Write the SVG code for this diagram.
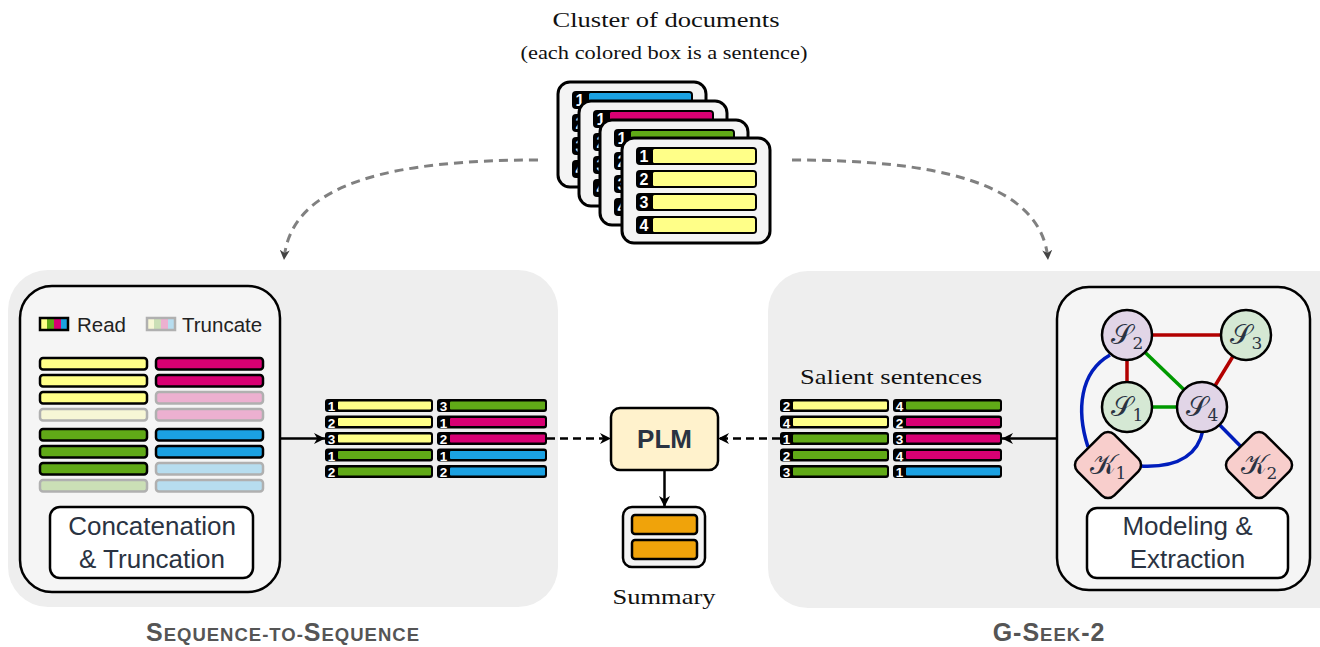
<svg xmlns="http://www.w3.org/2000/svg" width="1320" height="647" viewBox="0 0 1320 647">
<defs>
<style>
.bg{fill:#eeeeee}
.inner{fill:#f5f5f5;stroke:#000;stroke-width:2.5}
.doc{fill:#f4f4f4;stroke:#000;stroke-width:3}
.lab{font-family:"Liberation Sans",Arial,sans-serif;fill:#2a3342}
.serif{font-family:"Liberation Serif","Times New Roman",serif;fill:#111}
.y{fill:#ffff88}.g{fill:#60a917}.m{fill:#d80073}.b{fill:#1ba1e2}.o{fill:#f0a30a}
.bar{stroke:#000;stroke-width:2.5}
.tr{opacity:0.28}
.num{font-family:"Liberation Sans",Arial,sans-serif;font-weight:bold;fill:#fff;font-size:13.5px;text-anchor:middle}
.dnum{font-family:"Liberation Sans",Arial,sans-serif;font-weight:bold;fill:#fff;font-size:16px;text-anchor:middle}
.cap{font-family:"Liberation Sans",Arial,sans-serif;font-weight:bold;fill:#555;font-size:25px;letter-spacing:1px;text-anchor:middle}
.edge{fill:none;stroke-width:3.5}
.red{stroke:#b20000}.grn{stroke:#009900}.blu{stroke:#001dbc}
.node{stroke:#000;stroke-width:2.5}
.math{font-family:"DejaVu Serif","Liberation Serif",serif;fill:#2a3342;font-size:28px;text-anchor:middle}
.conn{fill:none;stroke:#000;stroke-width:2.5}
.dash{stroke-dasharray:8 5}
.gdash{fill:none;stroke:#808080;stroke-width:3;stroke-dasharray:9 6}
</style>
<marker id="ah" viewBox="0 0 10 10" refX="10" refY="5" markerWidth="11" markerHeight="11" markerUnits="userSpaceOnUse" orient="auto"><path d="M0,0 L10,5 L0,10 L3,5 z" fill="#000"/></marker>
<marker id="ahg" viewBox="0 0 10 10" refX="10" refY="5" markerWidth="10" markerHeight="10" markerUnits="userSpaceOnUse" orient="auto"><path d="M0,0 L10,5 L0,10 L3,5 z" fill="#444"/></marker>
</defs>

<!-- title -->
<text class="serif" x="666" y="27" font-size="22" text-anchor="middle" textLength="227" lengthAdjust="spacingAndGlyphs">Cluster of documents</text>
<text class="serif" x="664" y="59" font-size="18" text-anchor="middle" textLength="287" lengthAdjust="spacingAndGlyphs">(each colored box is a sentence)</text>

<!-- panels -->
<g id="panel-seq">
<rect class="bg" x="8" y="270" width="550" height="337" rx="40"/>
<rect class="inner" x="20" y="286" width="260" height="306" rx="32"/>
</g>
<g id="panel-gseek">
<rect class="bg" x="768" y="271" width="600" height="337" rx="40"/>
<rect class="inner" x="1057" y="287" width="253" height="303" rx="32"/>
</g>

<!-- document cluster -->
<g id="documents">
<g id="doc1">
<rect class="doc" x="558" y="82" width="148" height="105" rx="12"/>
<rect x="572" y="91" width="121" height="18" rx="4"/><rect class="b" x="589" y="93" width="102" height="14" rx="1.5"/><text class="dnum" x="580" y="106">1</text>
<rect x="572" y="114" width="121" height="18" rx="4"/><rect class="b" x="589" y="116" width="102" height="14" rx="1.5"/><text class="dnum" x="580" y="129">2</text>
<rect x="572" y="137" width="121" height="18" rx="4"/><rect class="b" x="589" y="139" width="102" height="14" rx="1.5"/><text class="dnum" x="580" y="152">3</text>
<rect x="572" y="160" width="121" height="18" rx="4"/><rect class="b" x="589" y="162" width="102" height="14" rx="1.5"/><text class="dnum" x="580" y="175">4</text>
</g>
<g id="doc2">
<rect class="doc" x="579" y="101" width="148" height="105" rx="12"/>
<rect x="593" y="110" width="121" height="18" rx="4"/><rect class="m" x="610" y="112" width="102" height="14" rx="1.5"/><text class="dnum" x="601" y="125">1</text>
<rect x="593" y="133" width="121" height="18" rx="4"/><rect class="m" x="610" y="135" width="102" height="14" rx="1.5"/><text class="dnum" x="601" y="148">2</text>
<rect x="593" y="156" width="121" height="18" rx="4"/><rect class="m" x="610" y="158" width="102" height="14" rx="1.5"/><text class="dnum" x="601" y="171">3</text>
<rect x="593" y="179" width="121" height="18" rx="4"/><rect class="m" x="610" y="181" width="102" height="14" rx="1.5"/><text class="dnum" x="601" y="194">4</text>
</g>
<g id="doc3">
<rect class="doc" x="600" y="120" width="148" height="105" rx="12"/>
<rect x="614" y="129" width="121" height="18" rx="4"/><rect class="g" x="631" y="131" width="102" height="14" rx="1.5"/><text class="dnum" x="622" y="144">1</text>
<rect x="614" y="152" width="121" height="18" rx="4"/><rect class="g" x="631" y="154" width="102" height="14" rx="1.5"/><text class="dnum" x="622" y="167">2</text>
<rect x="614" y="175" width="121" height="18" rx="4"/><rect class="g" x="631" y="177" width="102" height="14" rx="1.5"/><text class="dnum" x="622" y="190">3</text>
<rect x="614" y="198" width="121" height="18" rx="4"/><rect class="g" x="631" y="200" width="102" height="14" rx="1.5"/><text class="dnum" x="622" y="213">4</text>
</g>
<g id="doc4">
<rect class="doc" x="622" y="138" width="148" height="105" rx="12"/>
<rect x="636" y="147" width="121" height="18" rx="4"/><rect class="y" x="653" y="149" width="102" height="14" rx="1.5"/><text class="dnum" x="644" y="162">1</text>
<rect x="636" y="170" width="121" height="18" rx="4"/><rect class="y" x="653" y="172" width="102" height="14" rx="1.5"/><text class="dnum" x="644" y="185">2</text>
<rect x="636" y="193" width="121" height="18" rx="4"/><rect class="y" x="653" y="195" width="102" height="14" rx="1.5"/><text class="dnum" x="644" y="208">3</text>
<rect x="636" y="216" width="121" height="18" rx="4"/><rect class="y" x="653" y="218" width="102" height="14" rx="1.5"/><text class="dnum" x="644" y="231">4</text>
</g>
</g>

<!-- legend and truncation bars -->
<g id="legend">
<rect class="y" x="40" y="318" width="7" height="12"/><rect class="g" x="47" y="318" width="7" height="12"/><rect class="m" x="54" y="318" width="7" height="12"/><rect class="b" x="61" y="318" width="7" height="12"/>
<rect x="40" y="318" width="28" height="12" fill="none" stroke="#000" stroke-width="2.5"/>
<text class="lab" x="77" y="332" font-size="20.5" style="fill:#222">Read</text>
<g class="tr">
<rect class="y" x="147" y="318" width="7" height="12"/><rect class="g" x="154" y="318" width="7" height="12"/><rect class="m" x="161" y="318" width="7" height="12"/><rect class="b" x="168" y="318" width="7" height="12"/>
<rect x="147" y="318" width="28" height="12" fill="none" stroke="#000" stroke-width="2.5"/>
</g>
<text class="lab" x="182" y="332" font-size="20.5" style="fill:#222">Truncate</text>
</g>

<g id="input-sentences">
<rect class="y bar" x="40" y="358" width="107" height="11.5" rx="3"/>
<rect class="y bar" x="40" y="375" width="107" height="11.5" rx="3"/>
<rect class="y bar" x="40" y="392" width="107" height="11.5" rx="3"/>
<rect class="y bar tr" x="40" y="409" width="107" height="11.5" rx="3"/>
<rect class="g bar" x="40" y="429" width="107" height="11.5" rx="3"/>
<rect class="g bar" x="40" y="446" width="107" height="11.5" rx="3"/>
<rect class="g bar" x="40" y="463" width="107" height="11.5" rx="3"/>
<rect class="g bar tr" x="40" y="480" width="107" height="11.5" rx="3"/>
<rect class="m bar" x="156" y="358" width="107" height="11.5" rx="3"/>
<rect class="m bar" x="156" y="375" width="107" height="11.5" rx="3"/>
<rect class="m bar tr" x="156" y="392" width="107" height="11.5" rx="3"/>
<rect class="m bar tr" x="156" y="409" width="107" height="11.5" rx="3"/>
<rect class="b bar" x="156" y="429" width="107" height="11.5" rx="3"/>
<rect class="b bar" x="156" y="446" width="107" height="11.5" rx="3"/>
<rect class="b bar tr" x="156" y="463" width="107" height="11.5" rx="3"/>
<rect class="b bar tr" x="156" y="480" width="107" height="11.5" rx="3"/>
</g>

<g id="concat-label">
<rect x="50" y="507" width="203" height="71" rx="10" fill="#fff" stroke="#000" stroke-width="2.5"/>
<text class="lab" x="152" y="535" font-size="26" text-anchor="middle">Concatenation</text>
<text class="lab" x="152" y="568" font-size="26" text-anchor="middle">&amp; Truncation</text>
</g>

<!-- truncated input -->
<g id="truncated-input">
<rect x="325" y="399" width="108" height="13" rx="3"/><rect class="y" x="338" y="401.5" width="93" height="8" rx="1"/><text class="num" x="331.5" y="411">1</text>
<rect x="325" y="415.5" width="108" height="13" rx="3"/><rect class="y" x="338" y="418" width="93" height="8" rx="1"/><text class="num" x="331.5" y="427.5">2</text>
<rect x="325" y="432" width="108" height="13" rx="3"/><rect class="y" x="338" y="434.5" width="93" height="8" rx="1"/><text class="num" x="331.5" y="444">3</text>
<rect x="325" y="448.5" width="108" height="13" rx="3"/><rect class="g" x="338" y="451" width="93" height="8" rx="1"/><text class="num" x="331.5" y="460.5">1</text>
<rect x="325" y="465" width="108" height="13" rx="3"/><rect class="g" x="338" y="467.5" width="93" height="8" rx="1"/><text class="num" x="331.5" y="477">2</text>
<rect x="437" y="399" width="110" height="13" rx="3"/><rect class="g" x="450" y="401.5" width="95" height="8" rx="1"/><text class="num" x="443.5" y="411">3</text>
<rect x="437" y="415.5" width="110" height="13" rx="3"/><rect class="m" x="450" y="418" width="95" height="8" rx="1"/><text class="num" x="443.5" y="427.5">1</text>
<rect x="437" y="432" width="110" height="13" rx="3"/><rect class="m" x="450" y="434.5" width="95" height="8" rx="1"/><text class="num" x="443.5" y="444">2</text>
<rect x="437" y="448.5" width="110" height="13" rx="3"/><rect class="b" x="450" y="451" width="95" height="8" rx="1"/><text class="num" x="443.5" y="460.5">1</text>
<rect x="437" y="465" width="110" height="13" rx="3"/><rect class="b" x="450" y="467.5" width="95" height="8" rx="1"/><text class="num" x="443.5" y="477">2</text>
</g>

<!-- salient sentences -->
<g id="salient-sentences">
<text class="serif" x="891" y="384" font-size="21" text-anchor="middle" textLength="182" lengthAdjust="spacingAndGlyphs">Salient sentences</text>
<rect x="780" y="399" width="109" height="13" rx="3"/><rect class="y" x="793" y="401.5" width="94" height="8" rx="1"/><text class="num" x="786.5" y="411">2</text>
<rect x="780" y="415.5" width="109" height="13" rx="3"/><rect class="y" x="793" y="418" width="94" height="8" rx="1"/><text class="num" x="786.5" y="427.5">4</text>
<rect x="780" y="432" width="109" height="13" rx="3"/><rect class="g" x="793" y="434.5" width="94" height="8" rx="1"/><text class="num" x="786.5" y="444">1</text>
<rect x="780" y="448.5" width="109" height="13" rx="3"/><rect class="g" x="793" y="451" width="94" height="8" rx="1"/><text class="num" x="786.5" y="460.5">2</text>
<rect x="780" y="465" width="109" height="13" rx="3"/><rect class="g" x="793" y="467.5" width="94" height="8" rx="1"/><text class="num" x="786.5" y="477">3</text>
<rect x="893" y="399" width="109" height="13" rx="3"/><rect class="g" x="906" y="401.5" width="94" height="8" rx="1"/><text class="num" x="899.5" y="411">4</text>
<rect x="893" y="415.5" width="109" height="13" rx="3"/><rect class="m" x="906" y="418" width="94" height="8" rx="1"/><text class="num" x="899.5" y="427.5">2</text>
<rect x="893" y="432" width="109" height="13" rx="3"/><rect class="m" x="906" y="434.5" width="94" height="8" rx="1"/><text class="num" x="899.5" y="444">3</text>
<rect x="893" y="448.5" width="109" height="13" rx="3"/><rect class="m" x="906" y="451" width="94" height="8" rx="1"/><text class="num" x="899.5" y="460.5">4</text>
<rect x="893" y="465" width="109" height="13" rx="3"/><rect class="b" x="906" y="467.5" width="94" height="8" rx="1"/><text class="num" x="899.5" y="477">1</text>
</g>

<!-- PLM and summary -->
<g id="plm">
<rect x="611" y="408" width="107" height="62" rx="9" fill="#fff2cc" stroke="#000" stroke-width="2.5"/>
<text class="lab" x="664.5" y="448" font-size="26" font-weight="bold" text-anchor="middle">PLM</text>
</g>
<g id="summary">
<rect x="623" y="507" width="82" height="60" rx="9" fill="#f4f4f4" stroke="#000" stroke-width="2.5"/>
<rect class="o bar" x="632" y="515" width="65" height="19" rx="3"/>
<rect class="o bar" x="632" y="540" width="65" height="19" rx="3"/>
<text class="serif" x="664" y="604" font-size="21" text-anchor="middle" textLength="103" lengthAdjust="spacingAndGlyphs">Summary</text>
</g>

<!-- graph -->
<g id="graph-edges">
<line class="edge red" x1="1127" y1="335" x2="1246" y2="335"/>
<line class="edge red" x1="1127" y1="335" x2="1127" y2="407"/>
<line class="edge red" x1="1246" y1="335" x2="1202" y2="407"/>
<line class="edge grn" x1="1127" y1="335" x2="1202" y2="407"/>
<line class="edge grn" x1="1127" y1="407" x2="1202" y2="407"/>
<line class="edge blu" x1="1202" y1="407" x2="1259" y2="465"/>
<path class="edge blu" d="M1110,355 C1080,372 1076,410 1088,447"/>
<path class="edge blu" d="M1140,466 C1178,468 1198,455 1203,430"/>
</g>
<g id="S2"><circle class="node" cx="1127" cy="335" r="25" fill="#e1d5e7"/><text class="math" x="1127" y="344">𝒮<tspan font-size="17" dy="5">2</tspan></text></g>
<g id="S3"><circle class="node" cx="1246" cy="335" r="25" fill="#d5e8d4"/><text class="math" x="1246" y="344">𝒮<tspan font-size="17" dy="5">3</tspan></text></g>
<g id="S1"><circle class="node" cx="1127" cy="407" r="25" fill="#d5e8d4"/><text class="math" x="1127" y="416">𝒮<tspan font-size="17" dy="5">1</tspan></text></g>
<g id="S4"><circle class="node" cx="1202" cy="407" r="25" fill="#e1d5e7"/><text class="math" x="1202" y="416">𝒮<tspan font-size="17" dy="5">4</tspan></text></g>
<g id="K1"><rect class="node" x="-26" y="-26" width="52" height="52" rx="9" fill="#f8cecc" transform="translate(1108,465) rotate(45)"/><text class="math" x="1108" y="474">𝒦<tspan font-size="17" dy="5">1</tspan></text></g>
<g id="K2"><rect class="node" x="-26" y="-26" width="52" height="52" rx="9" fill="#f8cecc" transform="translate(1259,465) rotate(45)"/><text class="math" x="1259" y="474">𝒦<tspan font-size="17" dy="5">2</tspan></text></g>

<g id="model-label">
<rect x="1087" y="508" width="201" height="70" rx="10" fill="#fff" stroke="#000" stroke-width="2.5"/>
<text class="lab" x="1187.5" y="535" font-size="26" text-anchor="middle">Modeling &amp;</text>
<text class="lab" x="1187.5" y="568" font-size="26" text-anchor="middle">Extraction</text>
</g>

<!-- connectors -->
<g id="connectors">
<path class="gdash" d="M538,160 C400,160 290,180 284,260" marker-end="url(#ahg)"/>
<path class="gdash" d="M792,160 C930,160 1042,180 1048,260" marker-end="url(#ahg)"/>
<line class="conn" x1="280" y1="438.5" x2="325" y2="438.5" marker-end="url(#ah)"/>
<line class="conn dash" x1="547" y1="438.5" x2="611" y2="438.5" marker-end="url(#ah)"/>
<line class="conn dash" x1="780" y1="438.5" x2="718" y2="438.5" marker-end="url(#ah)"/>
<line class="conn" x1="1057" y1="438.5" x2="1002" y2="438.5" marker-end="url(#ah)"/>
<line class="conn" x1="664.5" y1="470" x2="664.5" y2="507" marker-end="url(#ah)"/>
</g>

<!-- captions -->
<text class="cap" x="283" y="641">S<tspan font-size="18.5">EQUENCE-TO-</tspan>S<tspan font-size="18.5">EQUENCE</tspan></text>
<text class="cap" x="1049" y="641">G-S<tspan font-size="18.5">EEK</tspan>-2</text>
</svg>
